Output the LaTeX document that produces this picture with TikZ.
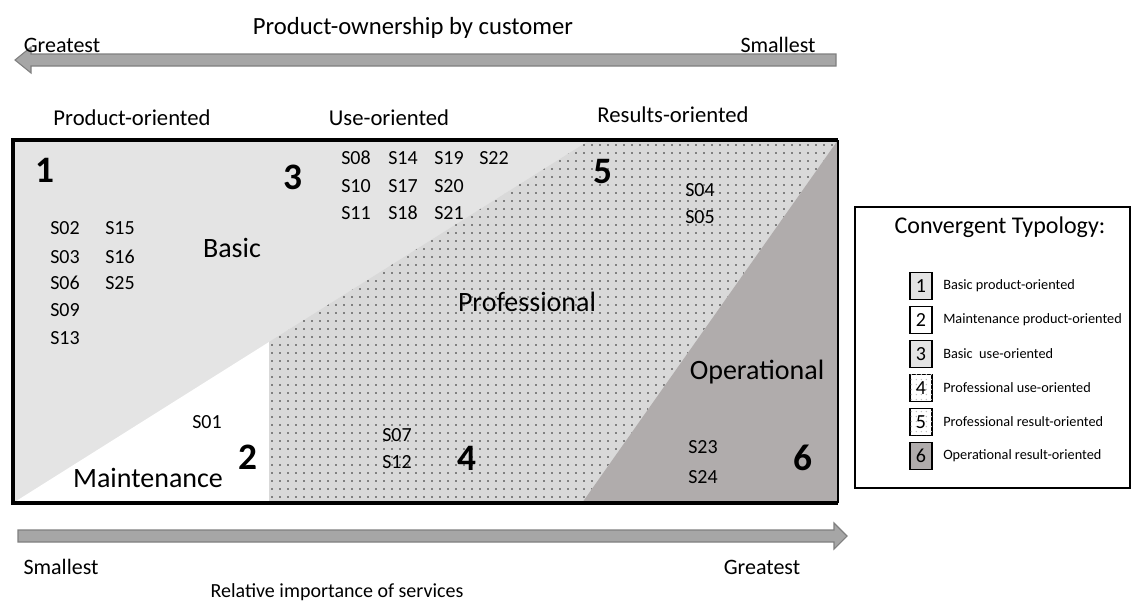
\documentclass[tikz,border=0pt]{standalone}
\usepackage{fontspec}
\setmainfont{Carlito}
\usetikzlibrary{patterns.meta}

\definecolor{basicgray}{HTML}{E4E4E4}
\definecolor{dotgray}{HTML}{D9D9D9}
\definecolor{opgray}{HTML}{B0ACAC}
\definecolor{arrowgray}{HTML}{A6A6A6}
\definecolor{arrowedge}{HTML}{7F7F7F}

\tikzset{
  axislbl/.style={font=\fontsize{16.5}{19}\selectfont, inner sep=0pt},
  colhead/.style={font=\fontsize{17}{20}\selectfont, inner sep=0pt},
  sname/.style={font=\fontsize{15}{18}\selectfont, inner sep=0pt},
  zone/.style={font=\fontsize{21}{24}\selectfont, inner sep=0pt},
  num/.style={font=\fontsize{28}{32}\selectfont\bfseries, inner sep=0pt},
  dotfill/.style={pattern={Dots[distance=6pt,radius=0.7pt]}, pattern color=black!85},
  keybox/.style={draw, thick, minimum width=16.5pt, minimum height=20pt, inner sep=0pt, font=\fontsize{15}{18}\selectfont},
  keytext/.style={anchor=west, inner sep=0pt, font=\fontsize{10.7}{13}\selectfont},
}

\begin{document}
\begin{tikzpicture}[x=0.75pt, y=-0.75pt]
  \useasboundingbox (0,0) rectangle (1136,601);

  % axis arrows
  \filldraw[fill=arrowgray, draw=arrowedge, thick] (15,60) -- (31,47) -- (31,54) -- (836,54) -- (836,66) -- (31,66) -- (31,73) -- cycle;
  \filldraw[fill=arrowgray, draw=arrowedge, thick] (18,530) -- (834,530) -- (834,523) -- (847,536) -- (834,549) -- (834,542) -- (18,542) -- cycle;
  \node[font=\fontsize{18.5}{22}\selectfont, inner sep=0pt] (own) at (413,28) {Product-ownership by customer};
  \node[axislbl] (owngreat) at (62,45) {Greatest};
  \node[axislbl] (ownsmall) at (778,45) {Smallest};
  \node[axislbl] (impsmall) at (61,567) {Smallest};
  \node[axislbl] (impgreat) at (762,567) {Greatest};
  \node[sname] (imp) at (337,592) {Relative importance of services};

  % column heads
  \node[colhead] (prodor) at (132,118) {Product-oriented};
  \node[colhead] (useor) at (389,118) {Use-oriented};
  \node[colhead] (resor) at (673,115) {Results-oriented};

  % zones
  \fill[basicgray] (13,140) rectangle (838,503);
  \fill[white] (13,503) -- (269,503) -- (269,342) -- cycle;
  \fill[dotgray] (269,503) -- (269,342) -- (590,140) -- (838,140) -- (582,503) -- cycle;
  \fill[dotfill] (269,503) -- (269,342) -- (590,140) -- (838,140) -- (582,503) -- cycle;
  \fill[opgray] (838,140) -- (838,503) -- (582,503) -- cycle;
  \draw[line width=3pt] (838,140) -- (13,140) -- (13,503) -- (838,503);
  \draw[line width=1.2pt] (838,140) -- (838,503);

  % zone names and numbers
  \node[zone] (basic) at (232,248) {Basic};
  \node[zone] (maint) at (148,478) {Maintenance};
  \node[zone] (prof) at (527,302) {Professional};
  \node[zone] (oper) at (757,372) {Operational};
  \node[num] (n1) at (45,170) {1};
  \node[num] (n2) at (248,457) {2};
  \node[num] (n3) at (293,177) {3};
  \node[num] (n4) at (467,458) {4};
  \node[num] (n5) at (603,172) {5};
  \node[num] (n6) at (803,458) {6};

  % services
  \node[sname] (s02) at (65,228) {S02};
  \node[sname] (s15) at (120,228) {S15};
  \node[sname] (s03) at (65,257) {S03};
  \node[sname] (s16) at (120,257) {S16};
  \node[sname] (s06) at (65,283) {S06};
  \node[sname] (s25) at (120,283) {S25};
  \node[sname] (s09) at (65,310) {S09};
  \node[sname] (s13) at (65,338) {S13};
  \node[sname] (s08) at (356,158) {S08};
  \node[sname] (s14) at (403,158) {S14};
  \node[sname] (s19) at (449,158) {S19};
  \node[sname] (s22) at (494,158) {S22};
  \node[sname] (s10) at (356,186) {S10};
  \node[sname] (s17) at (403,186) {S17};
  \node[sname] (s20) at (449,186) {S20};
  \node[sname] (s11) at (356,213) {S11};
  \node[sname] (s18) at (403,213) {S18};
  \node[sname] (s21) at (449,213) {S21};
  \node[sname] (s04) at (700,190) {S04};
  \node[sname] (s05) at (700,217) {S05};
  \node[sname] (s01) at (207,422) {S01};
  \node[sname] (s07) at (397,435) {S07};
  \node[sname] (s12) at (397,462) {S12};
  \node[sname] (s23) at (703,447) {S23};
  \node[sname] (s24) at (703,477) {S24};

  % legend
  \draw[thick] (855,207) rectangle (1130,488);
  \node[font=\fontsize{18}{22}\selectfont, inner sep=0pt] (keyhead) at (1000,227) {Convergent Typology:};
  \node[keybox, fill=basicgray] (k1) at (921,286) {1};
  \node[keybox, fill=white] (k2) at (921,320) {2};
  \node[keybox, fill=basicgray] (k3) at (921,354) {3};
  \node[keybox, fill=white, postaction={pattern={Dots[distance=4pt,radius=0.6pt]}, pattern color=black!25}] (k4) at (921,388) {4};
  \node[keybox, fill=white, postaction={pattern={Dots[distance=4pt,radius=0.6pt]}, pattern color=black!25}] (k5) at (921,422) {5};
  \node[keybox, fill=opgray] (k6) at (921,456) {6};
  \node[keytext] (t1) at (943,286) {Basic product-oriented};
  \node[keytext] (t2) at (943,320) {Maintenance product-oriented};
  \node[keytext] (t3) at (943,354) {Basic\ \ use-oriented};
  \node[keytext] (t4) at (943,388) {Professional use-oriented};
  \node[keytext] (t5) at (943,422) {Professional result-oriented};
  \node[keytext] (t6) at (943,456) {Operational result-oriented};
\end{tikzpicture}
\end{document}
